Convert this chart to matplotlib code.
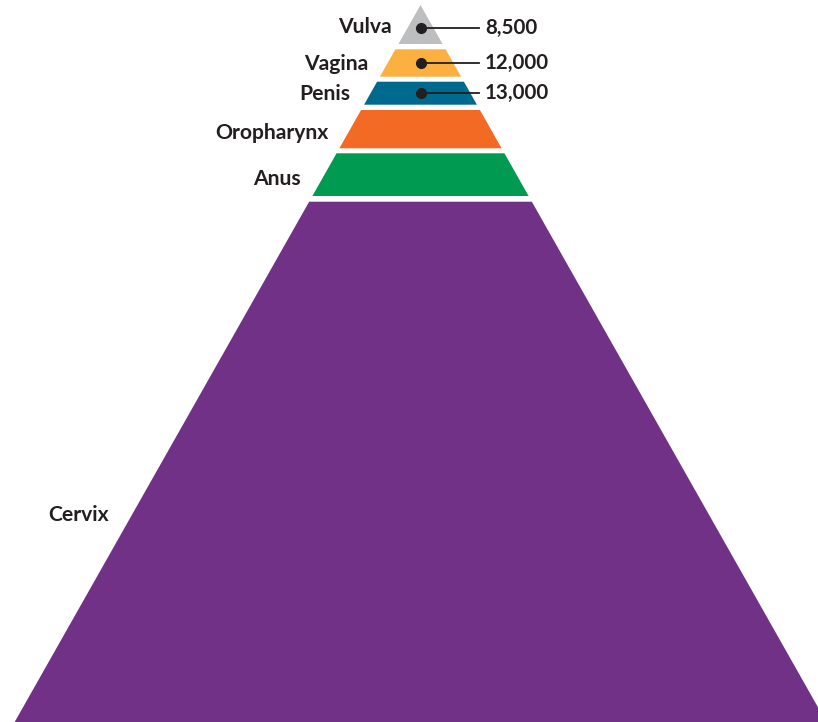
import matplotlib
matplotlib.use("Agg")
import matplotlib.pyplot as plt

# ---- data ----
categories = ["Vulva", "Vagina", "Penis", "Oropharynx", "Anus", "Cervix"]
values = [8500, 12000, 13000, None, None, None]
value_labels = ["8,500", "12,000", "13,000", None, None, None]
colors = ["#BDBEC0", "#FBB03F", "#006A8E", "#F26A23", "#009A50", "#713187"]

# ---- layout (pixel space of the figure) ----
W, H = 818, 722
apex_x, apex_y = 420.5, 5.0
slope = 0.566
band_tops = [5.0, 49.3, 81.7, 110.0, 153.3, 201.7]
band_bottoms = [44.0, 76.7, 104.7, 148.3, 196.0, 740.0]
label_pos = [(392, 27), (368, 64), (350, 94), (328, 133), (301, 179), (109, 515)]
dot_y = [28, 63, 93]
dot_x = 421
line_end_x = 479
num_x = 485

TEXT = "#231F20"
plt.rcParams["font.family"] = ["Lato", "DejaVu Sans"]

fig = plt.figure(figsize=(W / 100, H / 100), dpi=100)
ax = fig.add_axes([0, 0, 1, 1])
ax.set_xlim(0, W)
ax.set_ylim(H, 0)
ax.axis("off")


def half(y):
    return slope * (y - apex_y)


for i, cat in enumerate(categories):
    y0, y1 = band_tops[i], band_bottoms[i]
    xs = [apex_x - half(y0), apex_x + half(y0), apex_x + half(y1), apex_x - half(y1)]
    ys = [y0, y0, y1, y1]
    ax.fill(xs, ys, color=colors[i], lw=0)
    lx, ly = label_pos[i]
    ax.text(lx, ly, cat, ha="right", va="center", fontsize=15.2,
            fontweight="bold", color=TEXT)
    if value_labels[i] is not None:
        dy = dot_y[i]
        ax.plot([dot_x, line_end_x], [dy, dy], color=TEXT, lw=1.3)
        ax.plot([dot_x], [dy], "o", color=TEXT, ms=7)
        ax.text(num_x, dy, value_labels[i], ha="left", va="center",
                fontsize=14.8, fontweight="bold", color=TEXT)

fig.savefig("out.png", dpi=100)
